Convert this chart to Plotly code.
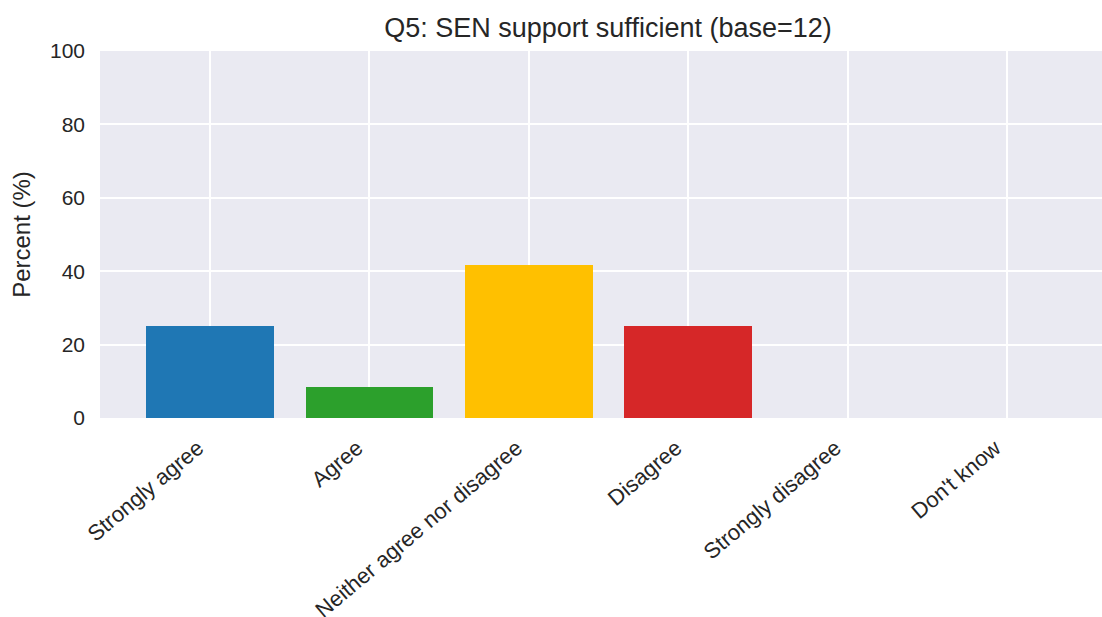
import plotly.graph_objects as go

categories = ["Strongly agree", "Agree", "Neither agree nor disagree", "Disagree", "Strongly disagree", "Don't know"]
percent = [25.0, 8.33, 41.67, 25.0, 0.0, 0.0]
colors = ["#1f77b4", "#2ca02c", "#FFC000", "#d62728", "#8b0000", "#7f7f7f"]
y_ticks = [0, 20, 40, 60, 80, 100]

xs = list(range(len(categories)))

fig = go.Figure()
fig.add_trace(go.Bar(x=xs, y=percent, marker=dict(color=colors, line=dict(width=0)), width=0.8,
                     showlegend=False, hoverinfo="skip"))

font_family = "Liberation Sans, Arial, sans-serif"
fig.update_layout(
    width=1102, height=617,
    margin=dict(l=100, r=0, t=51, b=199, autoexpand=False),
    paper_bgcolor="white",
    plot_bgcolor="#EAEAF2",
    font=dict(family=font_family, color="#262626", size=21),
    title=dict(text="Q5: SEN support sufficient (base=12)", x=0.507, xref="paper", xanchor="center",
               y=1 - 28/617, yanchor="middle", font=dict(size=27, color="#262626")),
    bargap=0,
)
fig.update_xaxes(
    range=[-0.69, 5.596], tickmode="array", tickvals=xs, ticktext=categories,
    tickangle=-40, showgrid=True, gridcolor="white", gridwidth=1.6, zeroline=False,
    showline=False, ticks="", tickfont=dict(size=22), ticklabelstandoff=12, ticklabelshift=-12,
    automargin=False,
)
fig.update_yaxes(
    range=[0, 100], tickmode="array", tickvals=y_ticks, showgrid=True, gridcolor="white",
    gridwidth=1.6, zeroline=False, showline=False, ticks="", tickfont=dict(size=21),
    ticklabelstandoff=14, automargin=False,
    title=dict(text="Percent (%)", font=dict(size=24), standoff=12),
)
fig.write_html("out.html", config={"displayModeBar": False},
               post_script="document.body.style.margin='0';document.body.style.overflow='hidden';")
